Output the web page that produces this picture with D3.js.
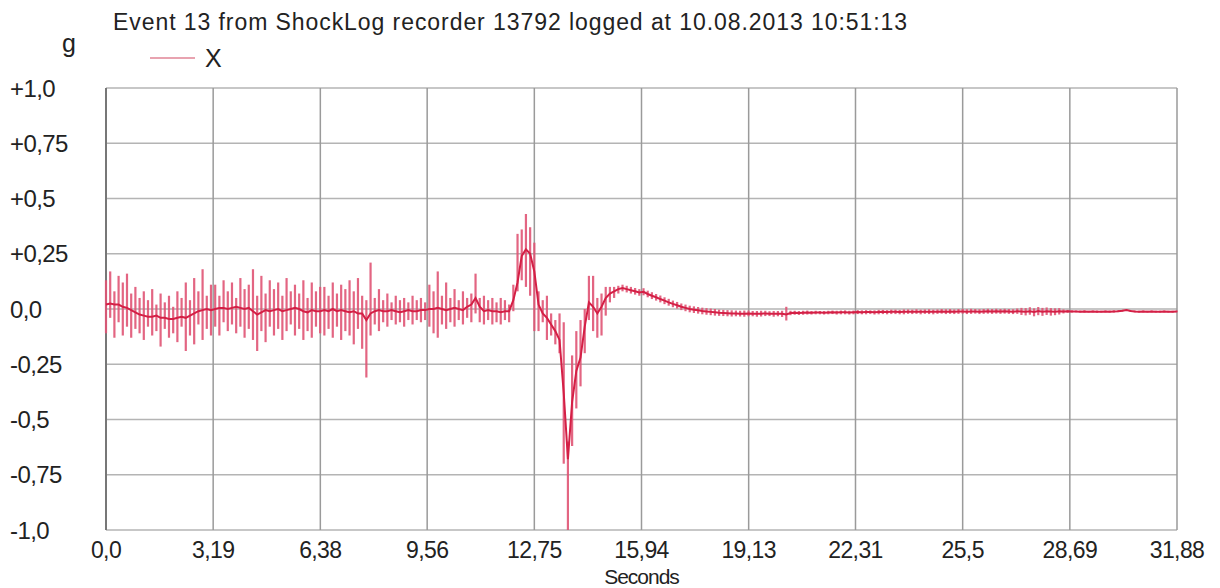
<!DOCTYPE html>
<html>
<head>
<meta charset="utf-8">
<script src="https://cdn.jsdelivr.net/npm/d3@7"></script>
<style>
  body { margin: 0; background: #fff; }
  text { font-family: "Liberation Sans", Arial, sans-serif; fill: #222; }
</style>
</head>
<body>
<div id="chart"></div>
<script>
// ShockLog event 13, X axis, one sample every 0.125 s
const sampleStep = 0.125;
const xTicks = [0, 3.19, 6.38, 9.56, 12.75, 15.94, 19.13, 22.31, 25.5, 28.69, 31.88];
const xTickLabels = ["0,0", "3,19", "6,38", "9,56", "12,75", "15,94", "19,13", "22,31", "25,5", "28,69", "31,88"];
const yTicks = [1, 0.75, 0.5, 0.25, 0, -0.25, -0.5, -0.75, -1];
const yTickLabels = ["+1,0", "+0,75", "+0,5", "+0,25", "0,0", "-0,25", "-0,5", "-0,75", "-1,0"];

// mean trace (g)
const meanG = [
  0.02,0.025,0.02,0.02,0.01,0.005,-0.005,-0.015,-0.025,-0.03,-0.035,-0.035,-0.03,-0.04,-0.04,-0.045,-0.045,-0.04,-0.035,-0.04,-0.03,-0.02,-0.01,-0.005,0.0,-0.005,
  0.0,0.005,0.005,0.0,0.005,0.01,0.005,0.0,0.005,-0.01,-0.025,-0.015,-0.005,-0.01,-0.005,0.0,-0.01,-0.005,0.0,0.005,0.0,-0.01,-0.015,-0.005,-0.01,-0.01,
  -0.005,-0.01,0.0,-0.01,-0.005,-0.01,-0.015,-0.01,-0.02,-0.02,-0.05,-0.02,-0.01,-0.005,-0.01,-0.01,-0.005,-0.01,-0.015,-0.01,-0.005,-0.01,-0.01,-0.005,-0.005,
  0.0,0.0,0.005,0.0,-0.005,0.0,0.005,0.0,-0.005,0.01,0.02,0.05,0.01,-0.01,-0.005,-0.01,-0.01,-0.015,-0.01,-0.01,0.04,0.12,0.24,0.27,0.25,0.17,
  0.02,-0.02,-0.04,-0.07,-0.1,-0.14,-0.38,-0.68,-0.42,-0.28,-0.22,-0.08,0.03,0.01,-0.02,0.01,0.05,0.07,0.08,0.09,0.095,0.09,0.085,0.08,0.075,
  0.078,0.068,0.06,0.053,0.045,0.038,0.03,0.023,0.017,0.01,0.005,0.0,-0.003,-0.006,-0.009,-0.011,-0.013,-0.015,-0.017,-0.018,
  -0.019,-0.02,-0.02,-0.021,-0.021,-0.02,-0.021,-0.022,-0.021,-0.02,-0.021,-0.022,-0.021,-0.022,-0.025,-0.018,-0.017,-0.018,-0.017,-0.016,
  -0.017,-0.016,-0.016,-0.017,-0.016,-0.015,-0.016,-0.015,-0.015,-0.016,-0.015,-0.014,-0.015,-0.014,-0.014,-0.015,-0.014,-0.013,-0.014,-0.013,
  -0.013,-0.014,-0.013,-0.012,-0.013,-0.012,-0.013,-0.012,-0.012,-0.013,-0.012,-0.011,-0.012,-0.011,-0.012,-0.011,-0.011,-0.012,-0.011,-0.011,
  -0.012,-0.011,-0.01,-0.011,-0.01,-0.011,-0.01,-0.011,-0.012,-0.01,-0.011,-0.012,-0.01,-0.013,-0.009,-0.012,-0.01,-0.011,-0.012,-0.01,
  -0.011,-0.01,-0.011,-0.011,-0.012,-0.011,-0.012,-0.011,-0.012,-0.012,-0.011,-0.012,-0.011,-0.01,-0.008,-0.005,-0.009,-0.011,-0.012,-0.011,
  -0.012,-0.011,-0.012,-0.012,-0.011,-0.012,-0.012,-0.011
];

// peak (max) in each sample window
const highG = [
  0.13,0.17,0.08,0.15,0.12,0.16,0.07,0.10,0.05,0.08,0.04,0.09,0.02,0.07,0.03,0.06,0.01,0.08,0.05,0.12,0.04,0.14,0.08,0.18,0.06,0.11,
  0.11,0.06,0.13,0.08,0.12,0.05,0.14,0.09,0.11,0.18,0.06,0.15,0.07,0.13,0.09,0.12,0.06,0.14,0.08,0.11,0.07,0.13,0.05,0.12,0.08,0.10,
  0.10,0.06,0.12,0.07,0.11,0.09,0.13,0.08,0.14,0.06,0.04,0.21,0.05,0.09,0.04,0.07,0.03,0.06,0.04,0.05,0.03,0.06,0.04,0.05,0.03,
  0.11,0.08,0.17,0.06,0.12,0.05,0.09,0.04,0.08,0.05,0.07,0.16,0.05,0.06,0.04,0.05,0.03,0.05,0.04,0.02,0.11,0.34,0.36,0.43,0.37,0.30,
  0.08,0.04,0.06,-0.02,-0.05,-0.02,-0.06,-0.6,-0.21,-0.1,-0.05,0.0,0.15,0.15,0.05,0.07,0.1,0.1,0.1,0.105,0.11,0.105,0.1,0.095,0.09,
  0.094,0.083,0.076,0.068,0.061,0.053,0.046,0.038,0.032,0.025,0.02,0.015,0.012,0.009,0.006,0.004,0.002,0.0,-0.003,-0.004,
  -0.005,-0.006,-0.007,-0.008,-0.007,-0.007,-0.009,-0.009,-0.008,-0.008,-0.01,-0.009,-0.009,-0.008,0.01,-0.008,-0.008,-0.009,-0.008,-0.007,
  -0.009,-0.008,-0.009,-0.009,-0.008,-0.007,-0.008,-0.007,-0.006,-0.008,-0.007,-0.005,-0.006,-0.005,-0.006,-0.006,-0.004,-0.004,-0.005,-0.003,
  -0.003,-0.004,-0.002,-0.002,-0.003,-0.001,-0.003,-0.002,-0.001,-0.003,-0.002,0.0,-0.001,0.0,-0.002,0.0,0.0,-0.001,0.001,0.0,
  -0.001,0.0,0.001,0.0,0.001,0.0,0.001,0.0,-0.001,0.002,0.005,0.004,0.008,0.003,0.009,0.005,0.007,0.004,0.003,0.004,
  -0.002,-0.004,-0.006,-0.007,-0.007,-0.006,-0.008,-0.007,-0.007,-0.008,-0.007,-0.007,-0.006,-0.006,-0.004,-0.002,-0.005,-0.007,-0.008,-0.007,
  -0.008,-0.007,-0.008,-0.008,-0.007,-0.008,-0.008,-0.007
];

// trough (min) in each sample window
const lowG = [
  -0.11,-0.04,-0.13,-0.06,-0.12,-0.08,-0.13,-0.09,-0.11,-0.14,-0.08,-0.12,-0.10,-0.17,-0.09,-0.13,-0.11,-0.15,-0.08,-0.19,-0.12,-0.16,-0.07,-0.14,-0.09,-0.12,
  -0.08,-0.12,-0.06,-0.10,-0.07,-0.11,-0.08,-0.13,-0.09,-0.14,-0.19,-0.10,-0.15,-0.08,-0.12,-0.09,-0.14,-0.10,-0.07,-0.12,-0.09,-0.14,-0.10,-0.13,-0.08,-0.11,
  -0.12,-0.09,-0.13,-0.08,-0.14,-0.10,-0.12,-0.16,-0.09,-0.18,-0.31,-0.12,-0.07,-0.10,-0.06,-0.08,-0.05,-0.07,-0.06,-0.08,-0.05,-0.07,-0.05,-0.06,-0.05,
  -0.08,-0.11,-0.13,-0.07,-0.09,-0.06,-0.08,-0.05,-0.07,-0.04,-0.06,-0.02,-0.06,-0.07,-0.05,-0.07,-0.06,-0.07,-0.05,-0.06,-0.01,0.08,0.13,0.10,0.06,-0.10,
  -0.1,-0.06,-0.14,-0.12,-0.16,-0.2,-0.7,-1.0,-0.62,-0.45,-0.35,-0.2,-0.05,-0.1,-0.13,-0.12,-0.03,0.03,0.05,0.07,0.08,0.075,0.07,0.065,0.06,
  0.062,0.053,0.045,0.038,0.03,0.022,0.015,0.008,0.002,-0.005,-0.01,-0.015,-0.018,-0.021,-0.024,-0.026,-0.028,-0.03,-0.031,-0.032,
  -0.033,-0.034,-0.033,-0.034,-0.035,-0.033,-0.033,-0.035,-0.034,-0.032,-0.032,-0.035,-0.033,-0.036,-0.052,-0.028,-0.026,-0.027,-0.026,-0.025,
  -0.025,-0.024,-0.024,-0.025,-0.024,-0.023,-0.025,-0.024,-0.024,-0.025,-0.024,-0.023,-0.024,-0.024,-0.023,-0.025,-0.024,-0.023,-0.024,-0.023,
  -0.023,-0.024,-0.024,-0.022,-0.023,-0.022,-0.024,-0.022,-0.023,-0.024,-0.022,-0.021,-0.023,-0.022,-0.023,-0.022,-0.021,-0.023,-0.022,-0.021,
  -0.023,-0.022,-0.021,-0.022,-0.021,-0.022,-0.021,-0.022,-0.023,-0.022,-0.027,-0.029,-0.026,-0.033,-0.028,-0.031,-0.027,-0.03,-0.028,-0.025,
  -0.02,-0.017,-0.016,-0.015,-0.016,-0.016,-0.016,-0.015,-0.017,-0.016,-0.015,-0.016,-0.016,-0.014,-0.012,-0.008,-0.013,-0.015,-0.016,-0.015,
  -0.016,-0.015,-0.016,-0.016,-0.015,-0.016,-0.016,-0.015
];

const width = 1220;
const height = 588;
const plot = { left: 106, right: 1177, top: 88, bottom: 530 };

const svg = d3.select("#chart")
  .append("svg")
  .attr("width", width)
  .attr("height", height);

const x = d3.scaleLinear().domain([0, 31.88]).range([plot.left, plot.right]);
const y = d3.scaleLinear().domain([-1, 1]).range([plot.bottom, plot.top]);

const samples = meanG.map((m, i) => ({ t: i * sampleStep, m: m, hi: highG[i], lo: lowG[i] }));

// horizontal grid
svg.append("g")
  .selectAll("line")
  .data(yTicks)
  .enter()
  .append("line")
  .attr("x1", plot.left).attr("x2", plot.right)
  .attr("y1", d => y(d)).attr("y2", d => y(d))
  .attr("stroke", "#b4b4b4")
  .attr("stroke-width", 1.5);

// vertical grid
svg.append("g")
  .selectAll("line")
  .data(xTicks)
  .enter()
  .append("line")
  .attr("x1", d => x(d)).attr("x2", d => x(d))
  .attr("y1", plot.top).attr("y2", plot.bottom)
  .attr("stroke", "#9a9a9a")
  .attr("stroke-width", 1.5);

// left edge a bit darker
svg.append("line")
  .attr("x1", plot.left).attr("x2", plot.left)
  .attr("y1", plot.top).attr("y2", plot.bottom)
  .attr("stroke", "#777")
  .attr("stroke-width", 2);

// min/max bars
svg.append("g")
  .selectAll("line")
  .data(samples)
  .enter()
  .append("line")
  .attr("x1", d => x(d.t)).attr("x2", d => x(d.t))
  .attr("y1", d => y(d.hi)).attr("y2", d => y(d.lo))
  .attr("stroke", "#e05575")
  .attr("stroke-width", 2.2)
  .attr("opacity", 0.9);

// mean trace
const line = d3.line()
  .x(d => x(d.t))
  .y(d => y(d.m));

svg.append("path")
  .datum(samples)
  .attr("d", line)
  .attr("fill", "none")
  .attr("stroke", "#d41f45")
  .attr("stroke-width", 2);

// y tick labels (left aligned)
svg.append("g")
  .selectAll("text")
  .data(yTicks)
  .enter()
  .append("text")
  .attr("x", 10)
  .attr("y", d => y(d))
  .attr("dy", "0.36em")
  .style("font-size", "24px")
  .style("letter-spacing", "-0.6px")
  .text((d, i) => yTickLabels[i]);

// x tick labels
svg.append("g")
  .selectAll("text")
  .data(xTicks)
  .enter()
  .append("text")
  .attr("x", d => x(d))
  .attr("y", 558)
  .attr("text-anchor", "middle")
  .style("font-size", "23px")
  .style("letter-spacing", "-0.6px")
  .text((d, i) => xTickLabels[i]);

svg.append("text")
  .attr("x", x(15.94))
  .attr("y", 584)
  .attr("text-anchor", "middle")
  .style("font-size", "21px")
  .style("letter-spacing", "-1px")
  .text("Seconds");

svg.append("text")
  .attr("x", 113)
  .attr("y", 30)
  .attr("textLength", 794)
  .attr("lengthAdjust", "spacing")
  .style("font-size", "23px")
  .text("Event 13 from ShockLog recorder 13792 logged at 10.08.2013 10:51:13");

svg.append("text")
  .attr("x", 62)
  .attr("y", 52)
  .style("font-size", "25px")
  .text("g");

// legend
svg.append("line")
  .attr("x1", 150).attr("x2", 195)
  .attr("y1", 58).attr("y2", 58)
  .attr("stroke", "#e8a3b0")
  .attr("stroke-width", 2);

svg.append("text")
  .attr("x", 205)
  .attr("y", 67)
  .style("font-size", "25px")
  .text("X");
</script>
</body>
</html>
